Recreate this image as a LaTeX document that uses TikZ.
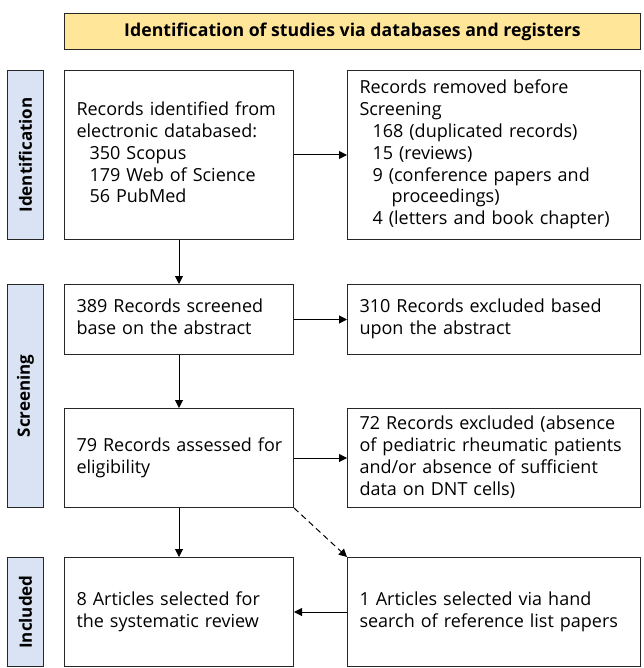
\documentclass[tikz,border=0pt]{standalone}
\usepackage{fontspec}
\setmainfont{Open Sans}
\usetikzlibrary{arrows.meta}
\definecolor{titlefill}{HTML}{FFE699}
\definecolor{sidefill}{HTML}{DAE3F3}
\definecolor{edge}{HTML}{262626}
\tikzset{
  box/.style={draw=edge, line width=1pt, anchor=north west, inner xsep=12pt, inner ysep=2pt, align=left,
    font=\fontsize{18}{21.8}\selectfont},
  sidebar/.style={draw=edge, line width=1pt, fill=sidefill, anchor=north west, minimum width=36pt},
  sidelabel/.style={rotate=90, font=\bfseries\fontsize{17}{20}\selectfont},
  arr/.style={draw=black, line width=1pt, -{Triangle[length=8pt,width=8pt]}},
}
\newcommand{\tl}[1]{\begin{tabular}{@{}l@{}}#1\end{tabular}}
\begin{document}
\begin{tikzpicture}[x=1pt,y=-1pt]
\useasboundingbox (0,0) rectangle (643,668);
\node[draw=edge, line width=1pt, fill=titlefill, anchor=north west, minimum width=576pt, minimum height=36pt,
  font=\bfseries\fontsize{17.7}{20}\selectfont] (title) at (64,13) {Identification of studies via databases and registers};
% sidebars
\node[sidebar, minimum height=169pt] (s1) at (7,70) {};
\node[sidelabel] (s1t) at (s1.center) {Identification};
\node[sidebar, minimum height=223pt] (s2) at (7,284) {};
\node[sidelabel] (s2t) at (s2.center) {Screening};
\node[sidebar, minimum height=109pt] (s3) at (7,557) {};
\node[sidelabel] (s3t) at (s3.center) {Included};
% left column
\node[box, minimum width=229pt, minimum height=169pt, text width=205pt] (a1) at (64,70)
  {\tl{Records identified from\\ electronic databased:\\ \hspace*{13pt}350 Scopus\\ \hspace*{13pt}179 Web of Science\\ \hspace*{13pt}56 PubMed}};
\node[box, minimum width=229pt, minimum height=70pt, text width=205pt] (a2) at (64,284)
  {\tl{389 Records screened\\ base on the abstract}};
\node[box, minimum width=229pt, minimum height=99pt, text width=205pt] (a3) at (64,408)
  {\tl{79 Records assessed for\\ eligibility}};
\node[box, minimum width=229pt, minimum height=109pt, text width=205pt] (a4) at (64,557)
  {\tl{8 Articles selected for\\ the systematic review}};
% right column
\node[box, minimum width=293pt, minimum height=169pt, text width=269pt] (r1) at (347,70)
  {\tl{Records removed before\\ Screening\\ \hspace*{13pt}168 (duplicated records)\\ \hspace*{13pt}15 (reviews)\\ \hspace*{13pt}9 (conference papers and\\ \hspace*{32pt}proceedings)\\ \hspace*{13pt}4 (letters and book chapter)}};
\node[box, minimum width=293pt, minimum height=70pt, text width=269pt] (r2) at (347,284)
  {\tl{310 Records excluded based\\ upon the abstract}};
\node[box, minimum width=293pt, minimum height=99pt, text width=269pt] (r3) at (347,408)
  {\tl{72 Records excluded (absence\\ of pediatric rheumatic patients\\ and/or absence of sufficient\\ data on DNT cells)}};
\node[box, minimum width=293pt, minimum height=109pt, text width=269pt] (r4) at (347,557)
  {\tl{1 Articles selected via hand\\ search of reference list papers}};
% connectors
\draw[arr] (a1.south) -- (a2.north);
\draw[arr] (a2.south) -- (a3.north);
\draw[arr] (a3.south) -- (a4.north);
\draw[arr] (a1.east) -- (r1.west);
\draw[arr] (a2.east) -- (r2.west);
\draw[arr] (a3.east) -- (r3.west);
\draw[arr] (r4.west) -- (a4.east);
\draw[arr, dash pattern=on 6pt off 4pt] (a3.south east) -- (r4.north west);
\end{tikzpicture}
\end{document}
